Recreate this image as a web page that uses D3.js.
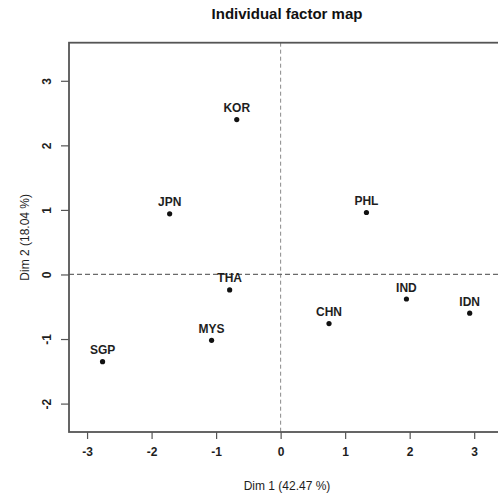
<!DOCTYPE html>
<html>
<head>
<meta charset="utf-8">
<script src="https://cdn.jsdelivr.net/npm/d3@7"></script>
<style>
  html, body { margin: 0; padding: 0; background: #fff; }
  svg { display: block; font-family: "Liberation Sans", Arial, sans-serif; }
</style>
</head>
<body>
<svg id="chart" width="498" height="496"></svg>
<script>
// Country codes and their coordinates on the first two dimensions
const countries = ["KOR", "JPN", "PHL", "THA", "IND", "CHN", "MYS", "IDN", "SGP"];
const dim1 = [-0.68, -1.72, 1.33, -0.79, 1.95, 0.75, -1.07, 2.93, -2.76];
const dim2 = [2.40, 0.94, 0.96, -0.24, -0.38, -0.76, -1.02, -0.60, -1.35];

const xTicks = [-3, -2, -1, 0, 1, 2, 3];
const yTicks = [-2, -1, 0, 1, 2, 3];

const titleText = "Individual factor map";
const xLabel = "Dim 1 (42.47 %)";
const yLabel = "Dim 2 (18.04 %)";

const svg = d3.select("#chart");
const plot = { left: 69, top: 42.7, right: 500, bottom: 432 };

const x = d3.scaleLinear().domain([-3.28, 3.40]).range([plot.left, plot.right]);
const y = d3.scaleLinear().domain([-2.44, 3.59]).range([plot.bottom, plot.top]);

const ink = "#1e1e1e";
const tickFmt = d => String(d); // plain hyphen-minus, as in base graphics

// Dashed reference lines through the origin
svg.append("line")
  .attr("x1", x(0)).attr("x2", x(0))
  .attr("y1", plot.top).attr("y2", plot.bottom)
  .attr("stroke", "#8a8a8a").attr("stroke-width", 1)
  .attr("stroke-dasharray", "4,3");
svg.append("line")
  .attr("x1", plot.left).attr("x2", plot.right)
  .attr("y1", y(0)).attr("y2", y(0))
  .attr("stroke", "#6a6a6a").attr("stroke-width", 1.2)
  .attr("stroke-dasharray", "5,3");

// Plot frame
svg.append("rect")
  .attr("x", plot.left).attr("y", plot.top)
  .attr("width", plot.right - plot.left).attr("height", plot.bottom - plot.top)
  .attr("fill", "none").attr("stroke", "#555").attr("stroke-width", 1.8);

// Axes
const xAxis = d3.axisBottom(x).tickValues(xTicks).tickSize(7).tickPadding(6)
  .tickFormat(tickFmt);
const yAxis = d3.axisLeft(y).tickValues(yTicks).tickSize(8).tickPadding(6)
  .tickFormat(tickFmt);

const gx = svg.append("g").attr("transform", `translate(0,${plot.bottom})`).call(xAxis);
gx.select(".domain").remove();
gx.selectAll(".tick line").attr("stroke", "#555").attr("stroke-width", 1.2);
gx.selectAll(".tick text")
  .attr("fill", ink).attr("font-size", 12).attr("font-weight", "bold")
  .attr("font-family", "Liberation Sans, Arial, sans-serif")
  .attr("dy", "0.95em");

const gy = svg.append("g").attr("transform", `translate(${plot.left},0)`).call(yAxis);
gy.select(".domain").remove();
gy.selectAll(".tick line").attr("stroke", "#555").attr("stroke-width", 1.2);
gy.selectAll(".tick text")
  .attr("fill", ink).attr("font-size", 12).attr("font-weight", "bold")
  .attr("font-family", "Liberation Sans, Arial, sans-serif")
  .attr("text-anchor", "middle")
  .attr("x", 0).attr("dy", 0)
  .attr("transform", "translate(-21,0) rotate(-90)")
  .attr("dominant-baseline", "middle");

// Points and their labels
const data = countries.map((c, i) => ({ name: c, d1: dim1[i], d2: dim2[i] }));

svg.append("g").selectAll("circle").data(data).join("circle")
  .attr("cx", d => x(d.d1)).attr("cy", d => y(d.d2))
  .attr("r", 2.6).attr("fill", "#111");

svg.append("g").selectAll("text").data(data).join("text")
  .attr("x", d => x(d.d1)).attr("y", d => y(d.d2) - 7.5)
  .attr("text-anchor", "middle")
  .attr("font-size", 12).attr("font-weight", "bold").attr("fill", ink)
  .text(d => d.name);

// Titles
svg.append("text")
  .attr("x", 287).attr("y", 19)
  .attr("text-anchor", "middle")
  .attr("font-size", 15).attr("font-weight", "bold").attr("fill", "#111")
  .text(titleText);

svg.append("text")
  .attr("x", 287).attr("y", 490)
  .attr("text-anchor", "middle")
  .attr("font-size", 12).attr("fill", ink)
  .text(xLabel);

svg.append("text")
  .attr("transform", `translate(29,${(plot.top + plot.bottom) / 2}) rotate(-90)`)
  .attr("text-anchor", "middle")
  .attr("font-size", 12).attr("fill", ink)
  .text(yLabel);
</script>
</body>
</html>
